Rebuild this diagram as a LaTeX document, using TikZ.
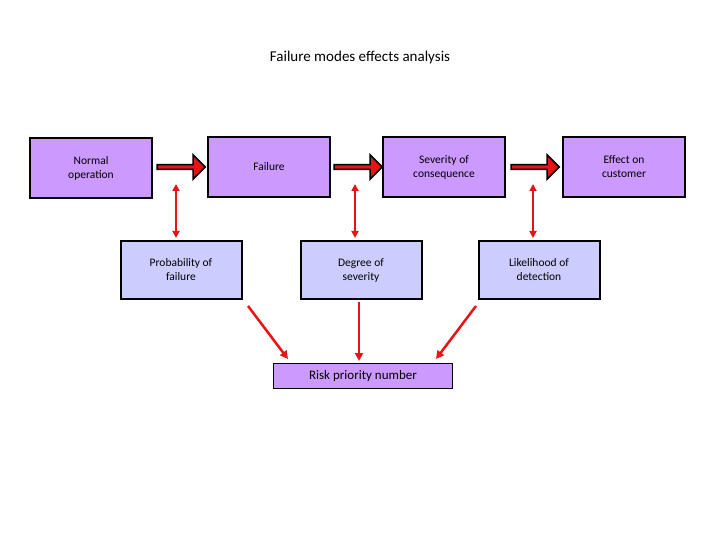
\documentclass[tikz,border=0pt]{standalone}
\usepackage{fontspec}
\setmainfont{Carlito}
\usetikzlibrary{shapes.arrows,arrows.meta}
\definecolor{topc}{RGB}{204,153,255}
\definecolor{lowc}{RGB}{204,204,255}
\definecolor{ared}{RGB}{230,20,20}
\begin{document}
\begin{tikzpicture}[x=1pt,y=-1pt,
  top/.style={draw=black,line width=2pt,fill=topc,minimum width=122pt,minimum height=60pt,align=center,font=\fontsize{11.5}{14}\selectfont,inner sep=0},
  low/.style={draw=black,line width=2pt,fill=lowc,minimum width=121pt,minimum height=58pt,align=center,font=\fontsize{11.5}{14}\selectfont,inner sep=0},
  blk/.style={single arrow,draw=black,line width=1.5pt,fill=ared,minimum height=48pt,minimum width=24pt,single arrow head extend=3pt,inner sep=0,shape border uses incircle=false},
  dbl/.style={draw=ared,line width=2pt,{Triangle[length=7pt,width=7pt]}-{Triangle[length=7pt,width=7pt]}},
  one/.style={draw=ared,line width=2.5pt,-{Triangle[length=8pt,width=8pt]}}]
\useasboundingbox (0,0) rectangle (720,540);
\fill[white] (0,0) rectangle (720,540);
\node[font=\fontsize{15}{18}\selectfont] (title) at (360,58) {Failure modes effects analysis};
\node[top] (n) at (91,168) {Normal\\operation};
\node[top] (f) at (269,167) {Failure};
\node[top] (s) at (444,167) {Severity of\\consequence};
\node[top] (e) at (624,167) {Effect on\\customer};
\node[low] (p) at (181,270) {Probability of\\failure};
\node[low] (d) at (361,270) {Degree of\\severity};
\node[low] (l) at (539,270) {Likelihood of\\detection};
\node[draw=black,line width=1.5pt,fill=topc,minimum width=179pt,minimum height=25pt,inner sep=0,font=\fontsize{13}{15}\selectfont] (r) at (363,376) {Risk priority number};
\node[blk] (b1) at (180,167) {};
\node[blk] (b2) at (357,167) {};
\node[blk] (b3) at (534,167) {};
\coordinate (u1) at (176,184); \coordinate (v1) at (176,238);
\coordinate (u2) at (355,184); \coordinate (v2) at (355,238);
\coordinate (u3) at (533,184); \coordinate (v3) at (533,238);
\draw[dbl] (u1) -- (v1);
\draw[dbl] (u2) -- (v2);
\draw[dbl] (u3) -- (v3);
\coordinate (a1) at (248,306); \coordinate (a2) at (359,302); \coordinate (a3) at (476,306);
\draw[one] (a1) -- (288,359);
\draw[one] (a2) -- (359,361);
\draw[one] (a3) -- (436,359);
\end{tikzpicture}
\end{document}
